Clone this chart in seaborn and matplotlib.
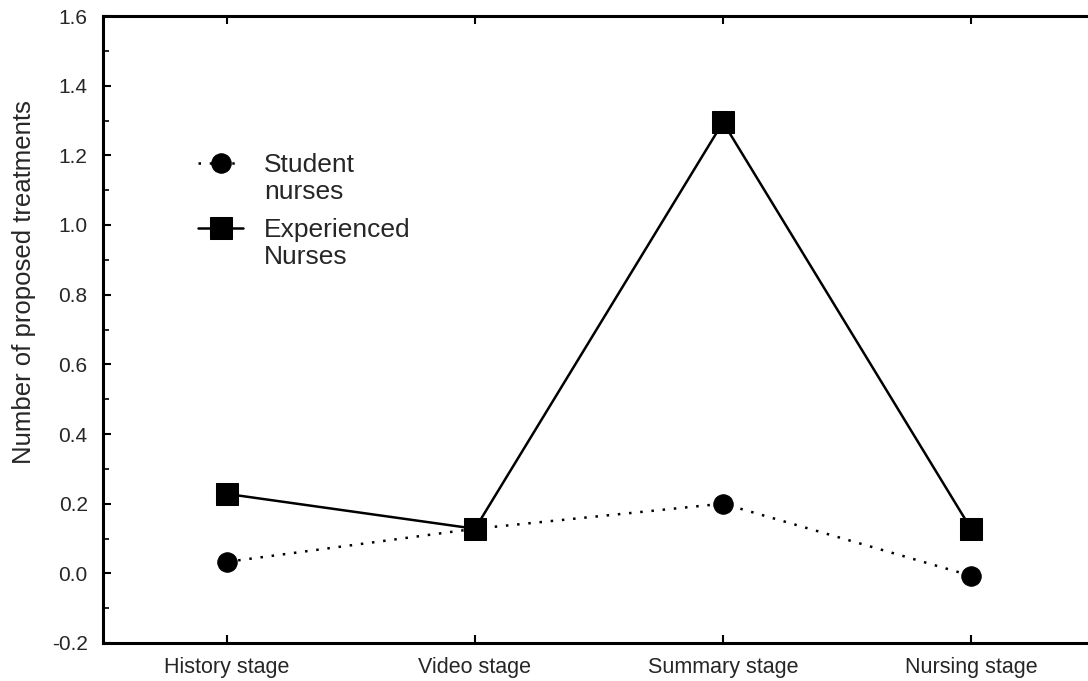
import numpy as np
import pandas as pd
import matplotlib
matplotlib.use("Agg")
import matplotlib.pyplot as plt
from matplotlib.ticker import MultipleLocator
from matplotlib.legend_handler import HandlerLine2D
import seaborn as sns

stages = ["History stage", "Video stage", "Summary stage", "Nursing stage"]
student = [0.033, 0.128, 0.2, -0.007]
experienced = [0.228, 0.128, 1.295, 0.128]

sns.set_style("white")
plt.rcParams['font.family'] = ['Liberation Sans', 'DejaVu Sans']


class TopLineHandler(HandlerLine2D):
    # put the marker level with the first line of a two-line label
    def create_artists(self, legend, orig_handle, xdescent, ydescent, width, height, fontsize, trans):
        artists = super().create_artists(legend, orig_handle, xdescent, ydescent,
                                         width, height, fontsize, trans)
        for a in artists:
            a.set_ydata(np.asarray(a.get_ydata()) + 0.6 * fontsize)
        return artists


df = pd.DataFrame({
    "pos": list(range(len(stages))) * 2,
    "value": student + experienced,
    "group": ["Student\nnurses"] * 4 + ["Experienced\nNurses"] * 4,
})

fig = plt.figure(figsize=(10.88, 6.81), dpi=100)
ax = fig.add_axes([103 / 1088, 38 / 681, 992 / 1088, 627 / 681])

sns.lineplot(data=df[df.group == "Student\nnurses"], x="pos", y="value", ax=ax,
             color="black", linestyle=(0, (1, 3.5)), linewidth=1.8, marker="o",
             markersize=14, markeredgecolor="black", label="Student\nnurses")
sns.lineplot(data=df[df.group == "Experienced\nNurses"], x="pos", y="value", ax=ax,
             color="black", linestyle="-", linewidth=1.8, marker="s",
             markersize=16, markeredgecolor="black", label="Experienced\nNurses")

ax.set_xlim(-0.5, 3.5)
ax.set_ylim(-0.2, 1.6)
ax.set_xticks(range(len(stages)))
ax.set_xticklabels(stages, fontsize=15.5)
ax.yaxis.set_major_locator(MultipleLocator(0.2))
ax.yaxis.set_minor_locator(MultipleLocator(0.1))
ax.set_yticklabels([f"{v:.1f}" for v in ax.get_yticks()], fontsize=15)
ax.set_xlabel("")
ax.set_ylabel("Number of proposed treatments", fontsize=18.5)
ax.yaxis.set_label_coords(-0.068, 0.575)

ax.tick_params(axis="both", which="both", direction="in", color="black")
ax.tick_params(axis="x", which="major", length=6, width=1.5, top=True, bottom=True, pad=10)
ax.tick_params(axis="y", which="major", length=6, width=1.5, left=True, pad=11)
ax.tick_params(axis="y", which="minor", length=4, width=1.2, left=True)

for side in ["left", "bottom", "top"]:
    ax.spines[side].set_color("black")
    ax.spines[side].set_linewidth(2.2)
ax.spines["right"].set_visible(False)

handles, labels = ax.get_legend_handles_labels()
leg = ax.legend(handles, labels, loc="upper left", bbox_to_anchor=(0.072, 0.82),
                frameon=False, fontsize=19, handlelength=1.7, labelspacing=0.5,
                handletextpad=0.8,
                handler_map={h: TopLineHandler() for h in handles})

fig.savefig("out.png", dpi=100)
